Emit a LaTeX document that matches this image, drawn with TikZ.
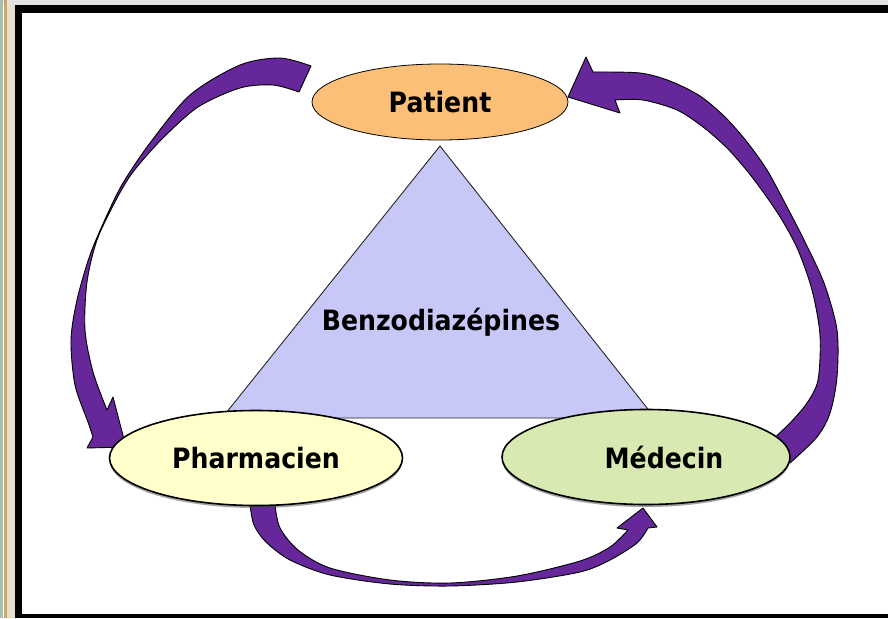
\documentclass[tikz,border=0pt]{standalone}
\usepackage{fontspec}
\newfontfamily\lblfont{DejaVu Sans}[FakeStretch=0.9]
\usepackage{tikz}
\usetikzlibrary{shapes.geometric,shadows}

\definecolor{patfill}{HTML}{FBBF77}
\definecolor{phafill}{HTML}{FFFFCC}
\definecolor{medfill}{HTML}{D8E9B1}
\definecolor{trifill}{HTML}{C8C8F8}
\definecolor{flechefill}{HTML}{65279A}
\definecolor{cadregrey}{HTML}{E2E2E2}
\definecolor{cadrevert}{HTML}{A9BDB3}
\definecolor{cadretan}{HTML}{C9A95F}
\definecolor{cadrebeige}{HTML}{E6DFCF}

\begin{document}
\begin{tikzpicture}[x = 1pt, y = -1pt, line width = 1pt,
    acteur/.style = {ellipse, draw, line width = 1.6pt, inner sep = 0pt,
        font = \lblfont\bfseries\fontsize{28}{30}\selectfont},
    ombre/.style = {drop shadow = {shadow xshift = 0pt, shadow yshift = -2.5pt, fill = black!70}},
    fleche/.style = {fill = flechefill, draw = black, line width = 0.9pt, line join = round},
    tri/.style = {fill = trifill, draw = black!85, line width = 0.9pt}]
\useasboundingbox (0,0) rectangle (888,618);
% cadre
\fill[cadregrey] (0,0) rectangle (888,5);
\fill[cadrevert] (0,0) rectangle (3,618);
\fill[cadretan] (4,0) rectangle (7,618);
\fill[cadrebeige] (7,5) rectangle (15,618);
\fill[black] (15,5) rectangle (888,13);
\fill[black] (15,5) rectangle (22,618);
\fill[black] (15,614) rectangle (888,618);
% fleches
\draw[fleche] plot[smooth] coordinates {(311,66) (280,58) (240,65) (190,95) (150,143) (123,183)
        (107,215) (90,255) (77,300) (71,340) (75,385) (88,422) (93,437)}
    -- (87,448) -- (126,447) -- (113,397) -- (107,410)
    -- plot[smooth] coordinates {(107,410) (93,372) (85,330) (87,282) (97,240) (116,200)
        (133,172) (162,139) (198,107) (240,88) (273,85) (299,92)} -- cycle;
\draw[fleche] plot[smooth] coordinates {(790,463) (817,437) (830,413) (837,377) (837,330)
        (824,283) (804,240) (786,205) (767,170) (747,142) (725,117) (700,96) (670,81) (640,73) (593,72)}
    -- (586,57) -- (568,97) -- (620,113) -- (615,100)
    -- plot[smooth] coordinates {(615,100) (643,100) (677,110) (703,127) (727,148) (748,172)
        (766,196) (782,220) (798,250) (812,290) (820,335) (818,380) (807,403) (790,423) (772,440)} -- cycle;
\draw[fleche] plot[smooth] coordinates {(250,505) (254,525) (266,542) (290,560) (330,575)
        (390,584) (450,586) (517,582) (580,572) (610,560) (637,543) (648,528)}
    -- (657,527) -- (643,508) -- (617,528) -- (628,530)
    -- plot[smooth] coordinates {(628,530) (610,547) (580,561) (517,576) (450,583) (390,580)
        (330,568) (298,550) (280,528) (275,505)} -- cycle;
% triangle
\draw[tri] (440,146) -- (222,418) -- (655,418) -- cycle;
\node[font = \lblfont\bfseries\fontsize{28}{30}\selectfont] (benzo) at (441,322) {Benzodiazépines};
% acteurs
\node[acteur, fill = patfill, line width = 0.8pt, minimum width = 256, minimum height = 76] (pat) at (440,102) {Patient};
\node[acteur, ombre, fill = phafill, minimum width = 293, minimum height = 95] (pha) at (256,458) {Pharmacien};
\node[acteur, ombre, fill = medfill, minimum width = 288, minimum height = 95] (med) at (646,457) {\hspace*{36pt}Médecin};
\end{tikzpicture}
\end{document}
